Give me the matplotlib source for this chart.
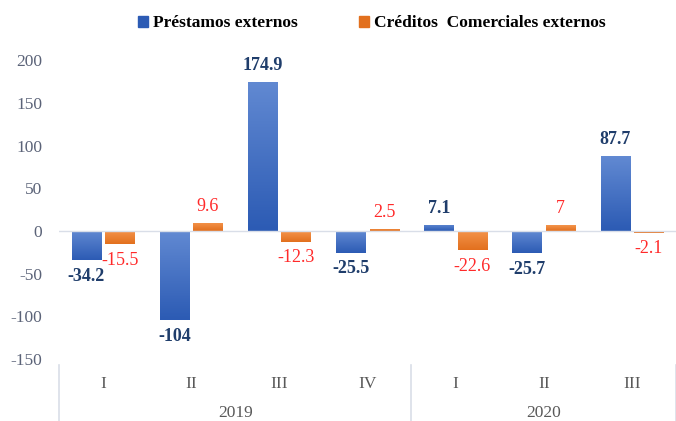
import matplotlib
matplotlib.use("Agg")
import matplotlib.pyplot as plt
from matplotlib.colors import LinearSegmentedColormap
from matplotlib.patches import Patch
import numpy as np

plt.rcParams["font.family"] = ["Liberation Serif", "DejaVu Serif"]
plt.rcParams["axes.unicode_minus"] = False

quarters = ["I", "II", "III", "IV", "I", "II", "III"]
years = ["2019", "2020"]
year_sizes = [4, 3]
prestamos = [-34.2, -104, 174.9, -25.5, 7.1, -25.7, 87.7]
creditos = [-15.5, 9.6, -12.3, 2.5, -22.6, 7, -2.1]
prestamos_lbl = ["-34.2", "-104", "174.9", "-25.5", "7.1", "-25.7", "87.7"]
creditos_lbl = ["-15.5", "9.6", "-12.3", "2.5", "-22.6", "7", "-2.1"]

BLUE_TOP, BLUE_BOT = "#6189d2", "#2c5bb4"
ORG_TOP, ORG_BOT = "#f4944c", "#e2701e"

fig = plt.figure(figsize=(6.76, 4.21), dpi=100)
ax = fig.add_axes([0.087, 0.147, 0.913, 0.71])

x = np.arange(len(quarters))
w = 0.33
off = 0.19
ylo, yhi = -150, 200


def grad_bars(xs, vals, top, bot):
    cmap = LinearSegmentedColormap.from_list("g", [bot, top])
    bars = ax.bar(xs, vals, width=w, color=top, zorder=2)
    grad = np.linspace(0, 1, 64).reshape(-1, 1)
    for b in bars:
        x0, y0 = b.get_x(), b.get_y()
        x1, y1 = x0 + b.get_width(), y0 + b.get_height()
        im = ax.imshow(grad, extent=[x0, x1, min(y0, y1), max(y0, y1)],
                       origin="lower", aspect="auto", cmap=cmap, zorder=2.5)
        im.set_clip_path(b)
    return bars


grad_bars(x - off, prestamos, BLUE_TOP, BLUE_BOT)
grad_bars(x + off, creditos, ORG_TOP, ORG_BOT)

ax.axhline(0, color="#d9dee8", lw=1.0, zorder=3)

for xi, v, t in zip(x, prestamos, prestamos_lbl):
    if v >= 0:
        ax.text(xi - off, v + 9, t, ha="center", va="bottom", fontsize=13,
                fontweight="bold", color="#1f3d6b")
    else:
        ax.text(xi - off, v - 9, t, ha="center", va="top", fontsize=13,
                fontweight="bold", color="#1f3d6b")
for xi, v, t in zip(x, creditos, creditos_lbl):
    if v >= 0:
        ax.text(xi + off, v + 9, t, ha="center", va="bottom", fontsize=13,
                color="#ff2a2a")
    else:
        ax.text(xi + off, v - 9, t, ha="center", va="top", fontsize=13,
                color="#ff2a2a")

ax.set_xlim(-0.5, len(quarters) - 0.5)
ax.set_ylim(ylo, yhi)
ax.set_yticks(np.arange(-150, 201, 50))
ax.tick_params(axis="y", length=0, labelsize=12.5, labelcolor="#5b6378", pad=12)
ax.set_xticks(x)
ax.set_xticklabels(quarters)
ax.tick_params(axis="x", length=0, labelsize=12.5, labelcolor="#595959", pad=12)
for s in ax.spines.values():
    s.set_visible(False)

# year labels and group separators
start = 0
for yr, n in zip(years, year_sizes):
    ax.text(start - 0.5 + n / 2, -0.18, yr, transform=ax.get_xaxis_transform(),
            ha="center", va="center", fontsize=12.5, color="#595959")
    start += n
bounds = [-0.5] + list(np.cumsum(year_sizes) - 0.5)
for b in bounds:
    ax.plot([b, b], [-0.02, -0.25], transform=ax.get_xaxis_transform(),
            color="#d9dee8", lw=1.2, clip_on=False)

handles = [Patch(color=BLUE_BOT), Patch(color=ORG_BOT)]
fig.legend(handles, ["Préstamos externos", "Créditos  Comerciales externos"],
           loc="center", bbox_to_anchor=(0.55, 0.945), ncol=2, frameon=False,
           prop={"weight": "bold", "size": 12.5}, handlelength=0.6, handleheight=0.6,
           columnspacing=3.5, handletextpad=0.3)

fig.savefig("out.png", dpi=100)
